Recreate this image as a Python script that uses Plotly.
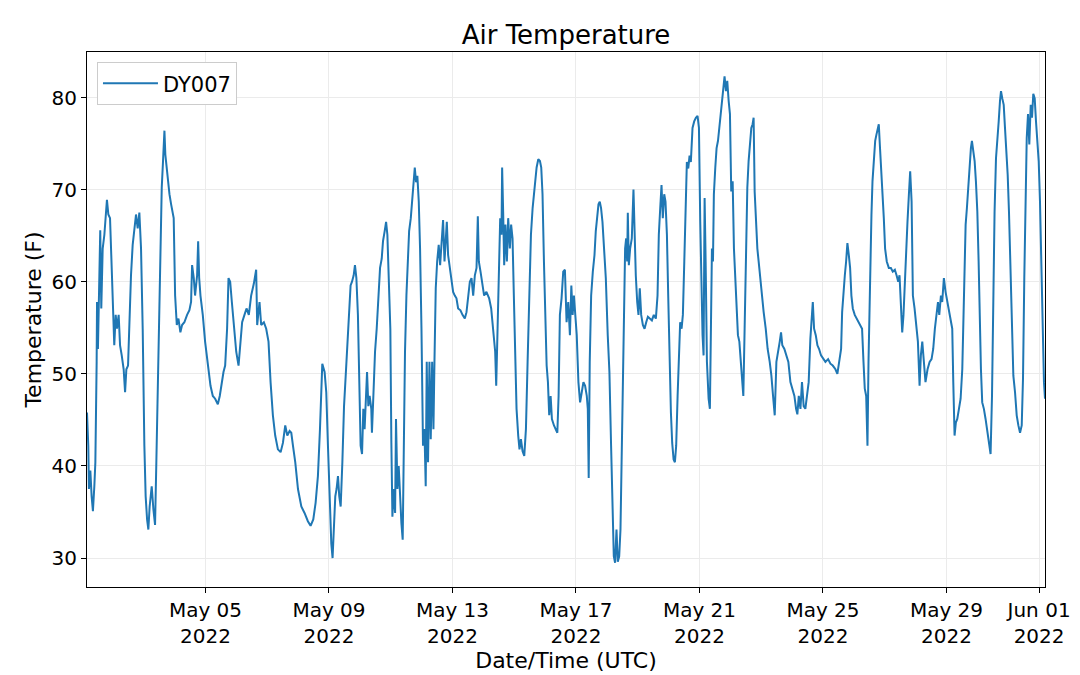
import pandas as pd
import plotly.graph_objects as go

# station DY007, hours after 2022-05-01 00:00 UTC and air temperature (F)
start = "2022-05-01 00:00"
hours = [
    3.9, 4.9, 5.4, 6.5, 7.5, 8.5, 9.6, 10.4, 11.4, 11.7,
    12.4, 13.5, 14.2, 15.0, 16.1, 17.4, 18.4, 19.4, 20.5, 21.8,
    23.1, 23.8, 25.1, 26.2, 27.2, 28.5, 29.6, 30.9, 32.4, 33.5,
    34.5, 35.8, 36.8, 38.1, 39.4, 40.7, 42.0, 43.3, 44.6, 45.9,
    47.2, 48.5, 49.5, 50.6, 51.6, 52.6, 54.2, 55.5, 56.8, 57.8,
    59.4, 61.0, 62.0, 63.0, 64.1, 64.8, 65.9, 66.7, 68.0, 69.3,
    70.6, 71.3, 72.4, 73.7, 75.0, 76.5, 77.8, 79.6, 81.7, 83.5,
    84.8, 85.6, 86.9, 87.9, 89.5, 90.3, 91.1, 92.1, 93.9, 95.7,
    99.9, 101.7, 103.5, 105.6, 107.1, 108.7, 110.0, 111.3, 112.8, 113.9,
    115.2, 116.5, 118.0, 119.9, 121.7, 123.2, 124.5, 126.3, 127.9, 129.7,
    131.5, 133.6, 135.4, 136.2, 138.0, 139.3, 141.4, 143.2, 145.0, 146.6,
    148.4, 150.2, 152.3, 154.4, 156.2, 158.0, 159.6, 161.4, 162.7, 164.0,
    165.8, 167.9, 170.5, 173.0, 175.6, 177.7, 179.8, 181.6, 183.4, 185.0,
    186.0, 186.8,
    188.6, 189.9, 191.2, 192.5, 193.8, 194.8, 195.9, 196.9, 197.9, 199.0,
    200.0, 201.1, 202.4, 203.7, 205.0, 206.3, 207.5, 208.8, 209.9, 211.2,
    212.2, 213.3, 214.5, 215.6, 216.6, 217.7, 218.7, 219.7, 220.8, 221.6,
    222.6, 223.6, 224.9, 225.4, 226.5, 227.8, 229.1, 230.4, 231.7, 233.0,
    234.0, 235.3, 236.4, 237.4, 238.4, 239.7, 240.5, 241.3, 242.3, 243.4,
    244.1, 245.2, 246.2, 247.3, 248.3, 249.3, 250.1, 251.1, 252.2, 253.2,
    254.3, 255.6, 256.6, 257.6, 258.7, 259.7, 260.7, 261.8, 262.8, 263.9,
    265.1, 266.2, 267.2, 268.0, 269.0, 270.1, 271.1, 272.2, 273.2, 274.0,
    275.0, 276.1, 277.3, 278.4, 279.4, 280.7, 281.8, 282.5, 283.6, 284.6,
    285.9,
    287.2, 288.5, 289.8, 291.1, 292.4, 294.2, 295.8, 297.6, 298.9, 300.2,
    301.5, 302.8, 304.1, 305.4, 306.7, 307.7, 308.5, 309.8, 311.1, 312.6,
    314.4, 316.5, 318.1, 319.1, 320.2, 321.2, 322.0, 323.0, 324.0, 325.1,
    326.1, 326.6, 327.4, 328.2, 329.2, 330.3, 331.3, 332.6, 333.6, 334.7,
    335.7, 336.8, 337.8, 339.1, 340.1, 341.2, 342.5, 343.8, 345.1, 346.4,
    347.7, 349.0, 350.3, 351.3, 352.3, 353.4, 354.7, 356.0, 357.0, 358.0,
    359.1, 360.1, 361.2, 362.2, 363.2, 364.3, 365.3, 366.9, 368.4, 369.5,
    370.5, 371.5, 372.8, 374.1, 375.4, 376.7, 378.0, 379.3, 380.4, 381.4,
    382.4,
    384.6, 385.9, 387.2, 388.5, 389.8, 391.1, 392.4, 393.2, 393.9, 394.7,
    395.8, 397.1, 398.4, 399.4, 400.4, 401.5, 402.5, 403.5, 404.6, 405.9,
    407.2, 408.7, 410.0, 411.3, 412.4, 413.4, 414.4, 415.5, 416.5, 417.6,
    418.6, 419.6, 420.4, 421.2, 422.2, 423.0, 423.8, 424.3, 425.1, 426.1,
    427.4, 428.7, 429.5, 430.5, 431.6, 432.6, 433.6, 434.7, 436.0, 437.3,
    438.6, 439.9, 441.4, 443.0, 444.5, 446.1, 447.4, 448.4, 449.5, 450.5,
    451.5, 452.6, 453.6, 454.7, 455.7, 456.7, 457.8, 458.8, 459.9, 460.9,
    461.9, 463.0, 464.0, 465.0, 466.1, 467.1, 468.2, 469.2, 470.2, 471.3,
    472.3, 473.3, 474.6, 475.9, 477.2, 478.5, 479.6,
    480.6, 481.4, 482.4, 483.2, 484.0, 484.8, 485.8, 487.1, 488.1, 488.9,
    489.7, 490.5, 491.2, 492.3, 493.3, 494.4, 495.4, 496.4, 497.5, 498.5,
    499.5, 500.6, 501.6, 502.7, 503.7, 504.7, 505.8, 506.8, 507.8, 508.9,
    509.9, 511.0, 512.0, 513.0, 514.1, 515.1, 516.2, 517.2, 518.2, 519.3,
    520.3, 521.3, 522.1, 522.9, 523.9, 525.0, 526.0, 527.0, 528.3, 529.9,
    531.5, 533.0, 534.6, 535.9, 537.2, 538.5, 539.8, 541.1, 542.4, 543.4,
    544.4, 546.0, 547.6, 549.1, 550.7, 552.2, 553.8, 555.1, 556.1, 557.2,
    558.5, 559.7, 561.0, 562.3, 563.6, 564.9, 566.2, 567.3, 568.1, 569.1,
    570.4, 571.7, 573.0, 574.5, 576.1,
    577.9, 580.0, 581.8, 583.6, 585.7, 587.2, 588.8, 590.1, 590.9, 591.9,
    593.0, 594.0, 595.0, 596.1, 597.1, 598.1, 599.2, 600.7, 602.3, 603.9,
    605.4, 606.4, 607.5, 608.5, 609.6, 610.6, 611.4, 612.2, 612.9, 613.7,
    614.5, 615.5, 616.6, 617.6, 618.6, 619.4, 620.2, 621.2, 622.3, 623.3,
    624.3, 625.6, 627.2, 628.8, 630.3, 631.9, 633.2, 634.5, 635.5, 636.5,
    637.6, 638.6, 639.7, 640.7, 641.7, 642.8, 643.8, 644.9, 645.9, 647.2,
    648.5, 649.8, 651.1, 652.1, 653.2, 654.4, 655.7, 657.3, 658.9, 660.4,
    661.7, 663.0, 664.3, 665.4, 666.4, 667.7, 668.7, 670.0,
    671.3, 672.6, 673.9, 675.2, 676.5, 677.3, 678.3, 679.3, 680.4, 681.7,
    683.0, 684.3, 685.3, 686.1, 686.9, 687.9, 688.9, 690.0, 691.0, 691.8,
    692.8, 693.9, 694.9, 696.0, 697.0, 698.0, 698.8, 699.8, 701.1, 702.4,
    703.7, 705.0, 706.3, 707.4, 708.4, 709.4, 710.5, 711.5, 712.6, 713.6,
    714.4, 715.4, 716.5, 717.5, 718.5, 719.6, 720.6, 721.6, 722.7, 724.0,
    725.3, 726.6, 727.9, 729.2, 730.5, 731.5, 732.5, 733.6, 734.4, 735.4,
    736.4, 737.5, 738.5, 739.5, 740.6, 741.6, 742.7, 743.7, 744.7, 745.8,
    746.8, 747.8, 748.6,
]
temps = [
    45.8, 42.2, 37.5, 39.5, 36.7, 35.1, 37.8, 40.4, 51.3, 57.8,
    52.7, 60.4, 65.6, 57.1, 63.6, 65.1, 67.6, 68.9, 67.3, 66.9,
    61.5, 58.2, 53.1, 56.4, 54.9, 56.4, 53.1, 52.0, 50.5, 48.0,
    50.5, 50.9, 55.6, 60.7, 64.0, 65.5, 67.3, 65.8, 67.5, 63.6,
    54.9, 42.2, 36.7, 34.2, 33.1, 35.6, 37.8, 35.3, 33.6, 40.4,
    51.3, 65.1, 70.2, 73.1, 76.4, 73.8, 72.0, 70.9, 69.5, 68.4,
    67.3, 66.9, 58.5, 55.3, 56.0, 54.5, 55.3, 55.6, 56.4, 56.9,
    57.8, 61.8, 60.4, 58.5, 60.7, 64.4, 60.4, 58.5, 56.4, 53.5,
    48.7, 47.6, 47.3, 46.7, 47.6, 49.1, 50.2, 50.9, 54.9, 60.4,
    60.0, 57.8, 55.6, 52.4, 50.9, 53.5, 55.6, 56.4, 57.1, 56.4,
    58.5, 59.8, 61.3, 55.3, 57.8, 55.3, 55.6, 54.9, 53.5, 49.1,
    45.5, 43.3, 41.8, 41.5, 42.5, 44.4, 43.3, 43.8, 43.6, 42.2,
    40.4, 37.5, 35.6, 34.9, 34.0, 33.5, 34.2, 36.0, 38.9, 44.0,
    47.6, 51.1,
    50.2, 48.0, 42.2, 36.7, 31.6, 30.0, 34.5, 36.7, 37.5, 38.9,
    36.7, 35.6, 40.4, 46.5, 49.8, 53.1, 56.4, 59.6, 60.0, 60.7,
    61.8, 60.4, 56.4, 49.5, 42.2, 41.3, 46.2, 44.0, 49.1, 50.2,
    46.5, 47.6, 46.2, 43.6, 47.6, 52.4, 54.9, 58.5, 61.5, 62.5,
    64.4, 65.5, 66.5, 65.1, 61.5, 54.9, 42.5, 34.5, 37.5, 34.9,
    45.1, 37.5, 40.0, 35.6, 33.8, 32.0, 41.8, 52.4, 58.5, 62.5,
    65.5, 66.9, 68.4, 70.5, 72.4, 70.8, 71.5, 68.7, 63.6, 54.9,
    42.2, 44.0, 37.8, 51.3, 40.4, 51.3, 42.9, 51.3, 44.0, 51.3,
    59.3, 62.2, 64.0, 61.8, 64.0, 66.7, 62.2, 64.4, 66.5, 62.9,
    61.5,
    60.4, 58.9, 58.5, 58.2, 57.1, 56.9, 56.4, 56.0, 56.7, 58.5,
    60.0, 60.4, 58.5, 60.7, 61.5, 67.1, 62.2, 61.1, 60.0, 58.5,
    58.9, 58.2, 57.1, 55.6, 53.8, 52.4, 48.7, 54.9, 62.5, 66.9,
    65.1, 72.4, 67.6, 61.8, 66.2, 62.2, 66.9, 63.6, 66.2, 64.7,
    58.5, 51.3, 46.2, 43.3, 41.8, 42.9, 41.6, 41.1, 44.0, 51.3,
    58.5, 65.1, 68.0, 69.5, 71.6, 72.4, 73.3, 73.1, 72.4, 69.5,
    62.2, 54.9, 50.9, 49.1, 45.5, 47.6, 45.1, 44.4, 44.0, 43.6,
    47.6, 56.4, 58.2, 61.1, 61.3, 55.6, 57.8, 54.2, 59.6, 56.4,
    58.5,
    54.2, 49.1, 46.9, 48.0, 49.1, 48.7, 47.6, 46.2, 38.7, 51.3,
    58.5, 61.1, 62.9, 65.5, 66.9, 68.4, 68.7, 68.0, 66.5, 64.0,
    60.4, 54.2, 50.2, 42.2, 35.3, 30.2, 29.5, 33.1, 29.6, 30.2,
    33.1, 42.2, 51.3, 59.3, 63.6, 64.7, 62.2, 67.5, 61.8, 63.6,
    64.7, 70.0, 64.7, 60.7, 57.8, 56.4, 59.3, 56.4, 55.3, 54.9,
    55.6, 56.2, 56.0, 55.8, 56.4, 56.0, 58.5, 65.1, 68.0, 70.5,
    66.9, 69.5, 68.7, 65.1, 58.5, 51.3, 45.8, 42.5, 40.7, 40.4,
    42.2, 47.6, 51.3, 55.6, 54.9, 56.4, 62.2, 67.6, 73.0, 72.3,
    73.7, 73.0, 76.7, 77.4, 77.8, 78.0, 76.7,
    66.5, 58.5, 54.2, 52.0, 69.1, 62.2, 51.3, 47.3, 46.2, 54.9,
    63.6, 62.2, 69.5, 72.4, 74.5, 75.3, 76.7, 78.2, 79.6, 80.4,
    82.3, 80.7, 81.8, 79.6, 78.2, 69.8, 70.9, 63.6, 60.7, 57.1,
    54.2, 53.5, 51.3, 49.1, 47.6, 54.9, 63.6, 70.2, 73.1, 75.3,
    76.7, 77.1, 77.8, 69.8, 66.5, 63.6, 62.2, 60.7, 58.9, 56.7,
    54.9, 52.7, 51.3, 49.8, 47.6, 45.5, 51.3, 52.7, 53.5, 54.5,
    53.1, 52.7, 52.0, 51.3, 49.1, 48.4, 47.6, 46.2, 45.6, 47.6,
    46.2, 49.1, 46.5, 46.2, 48.0, 49.1, 53.8, 55.6, 57.8, 54.9,
    54.2, 53.1, 52.7, 52.0, 51.6,
    51.3, 51.6, 51.1, 50.9, 50.5, 50.0, 51.3, 52.7, 56.7, 59.3,
    60.7, 62.2, 64.2, 62.9, 61.5, 58.5, 57.1, 56.4, 56.0, 55.6,
    55.3, 54.9, 51.3, 48.4, 47.6, 42.2, 51.3, 58.5, 64.4, 67.3,
    70.9, 73.1, 75.3, 76.0, 76.7, 77.1, 74.9, 72.4, 70.2, 66.9,
    63.6, 62.2, 61.5, 61.5, 61.1, 61.3, 60.7, 60.0, 60.7, 57.8,
    54.5, 56.4, 60.4, 63.6, 66.5, 69.5, 72.0, 68.7, 58.5, 57.1,
    54.9, 53.5, 48.7, 52.0, 53.5, 51.3, 49.1, 50.5, 51.3, 51.6,
    52.7, 54.9, 56.4, 57.8, 56.4, 58.5, 57.8, 60.4,
    58.9, 57.8, 57.1, 56.0, 54.9, 49.1, 43.3, 44.7, 45.1, 46.2,
    47.3, 50.5, 56.7, 63.6, 66.2, 68.0, 70.5, 72.7, 74.5, 75.3,
    74.2, 73.1, 70.9, 67.6, 62.2, 54.9, 50.5, 46.9, 46.2, 45.1,
    44.0, 42.9, 41.3, 47.6, 58.5, 67.6, 73.4, 76.0, 77.4, 79.6,
    80.7, 79.9, 79.2, 76.7, 74.2, 71.6, 67.6, 61.5, 54.9, 49.8,
    48.0, 45.5, 44.4, 43.6, 44.4, 49.5, 60.4, 71.3, 75.6, 78.2,
    74.9, 79.2, 77.8, 80.4, 79.9, 77.4, 75.3, 73.1, 68.7, 61.5,
    54.9, 49.1, 47.3,
]

tick_dates = ["2022-05-05", "2022-05-09", "2022-05-13", "2022-05-17",
              "2022-05-21", "2022-05-25", "2022-05-29", "2022-06-01"]
tick_text = ["May 05<br>2022", "May 09<br>2022", "May 13<br>2022", "May 17<br>2022",
             "May 21<br>2022", "May 25<br>2022", "May 29<br>2022", "Jun 01<br>2022"]
y_ticks = [30, 40, 50, 60, 70, 80]

n = min(len(hours), len(temps))
times = pd.Timestamp(start) + pd.to_timedelta(hours[:n], unit="h")
temps = temps[:n]

lo, hi = min(temps), max(temps)
pad = (hi - lo) * 0.05

fig = go.Figure()
fig.add_trace(go.Scatter(x=times, y=temps, mode="lines", name="DY007",
                         line=dict(color="#1f77b4", width=2)))

axis_style = dict(showline=True, linecolor="black", linewidth=1, mirror=True,
                  ticks="outside", ticklen=5, tickcolor="black",
                  showgrid=True, gridcolor="#ebebeb", gridwidth=1, zeroline=False,
                  tickfont=dict(size=20, color="black"))

# page body has an 8px margin, so the margins below are shifted to compensate
fig.update_layout(
    width=1080, height=675,
    paper_bgcolor="white", plot_bgcolor="white",
    font=dict(family="DejaVu Sans", color="black"),
    margin=dict(l=79, r=43, t=44, b=96),
    title=dict(text="Air Temperature", x=0.5167, xanchor="center", y=0.96, yanchor="middle",
               font=dict(size=26)),
    showlegend=True,
    legend=dict(x=0.0104, y=0.981, xanchor="left", yanchor="top",
                bgcolor="white", bordercolor="#cccccc", borderwidth=1,
                itemwidth=55, font=dict(size=21)),
)
fig.update_xaxes(range=[times.min(), times.max()], tickvals=tick_dates, ticktext=tick_text,
                 title=dict(text="Date/Time (UTC)", font=dict(size=22), standoff=0),
                 **axis_style)
fig.update_yaxes(range=[lo - pad, hi + pad], tickvals=y_ticks,
                 title=dict(text="Temperature (F)", font=dict(size=22), standoff=3),
                 **axis_style)

fig.write_html("out.html")
